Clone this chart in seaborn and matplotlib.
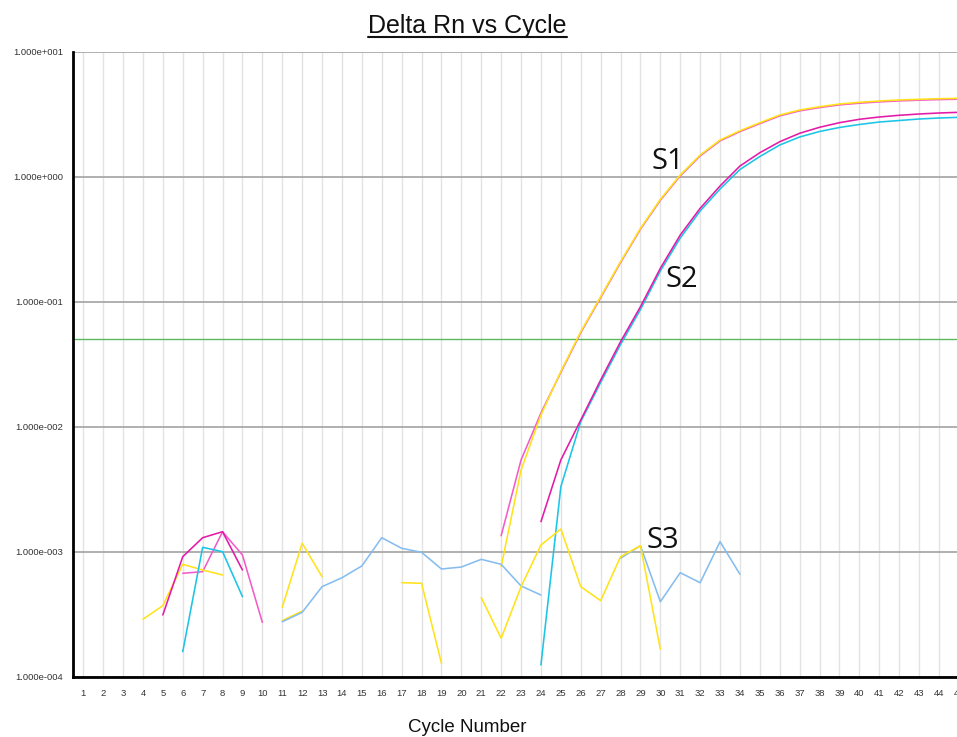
import numpy as np
import pandas as pd
import matplotlib
matplotlib.use("Agg")
import matplotlib.pyplot as plt
from matplotlib.lines import Line2D
from matplotlib.ticker import FixedLocator, FuncFormatter, NullLocator
import seaborn as sns

nan = np.nan

# Amplification data: delta Rn per cycle (NaN = no positive value to plot)
cycles = list(range(1, 46))

s1_a = [nan, nan, nan, 2.88e-4, 3.70e-4,           # 1-5
        7.93e-4, 7.14e-4, 6.51e-4, nan, nan,       # 6-10
        2.81e-4, 3.35e-4, nan, nan, nan,           # 11-15
        nan, nan, nan, nan, nan,                   # 16-20
        nan, 7.59e-4, 4.50e-3, 0.0124, 0.0277,     # 21-25
        0.0575, 0.1096, 0.209, 0.386, 0.659,       # 26-30
        1.032, 1.492, 1.966, 2.333, 2.704,         # 31-35
        3.116, 3.417, 3.631, 3.816, 3.937,         # 36-40
        4.033, 4.108, 4.161, 4.207, 4.238]         # 41-45

s1_b = [nan, nan, nan, nan, nan,
        6.72e-4, 6.92e-4, 1.445e-3, 9.41e-4, 2.72e-4,
        nan, nan, nan, nan, nan,
        nan, nan, nan, nan, nan,
        nan, 1.343e-3, 5.42e-3, 0.01287, 0.0272,
        0.0565, 0.1078, 0.2055, 0.380, 0.648,
        1.015, 1.467, 1.934, 2.295, 2.660,
        3.065, 3.361, 3.572, 3.754, 3.873,
        3.967, 4.041, 4.093, 4.138, 4.169]

s2_a = [nan, nan, nan, nan, 3.12e-4,
        9.12e-4, 1.294e-3, 1.445e-3, 7.14e-4, nan,
        nan, nan, nan, nan, nan,
        nan, nan, nan, nan, nan,
        nan, nan, nan, 1.738e-3, 5.42e-3,
        0.01131, 0.02363, 0.04786, 0.0912, 0.1851,
        0.3416, 0.5587, 0.8427, 1.218, 1.556,
        1.905, 2.225, 2.485, 2.704, 2.879,
        3.003, 3.099, 3.174, 3.233, 3.275]

s2_b = [nan, nan, nan, nan, nan,
        1.585e-4, 1.084e-3, 1.0e-3, 4.37e-4, nan,
        nan, nan, nan, nan, nan,
        nan, nan, nan, nan, nan,
        nan, nan, nan, 1.241e-4, 3.31e-3,
        0.01096, 0.02257, 0.04546, 0.0866, 0.1761,
        0.3232, 0.5317, 0.7972, 1.142, 1.451,
        1.793, 2.078, 2.299, 2.476, 2.616,
        2.738, 2.815, 2.894, 2.948, 2.986]

s3_a = [nan, nan, nan, nan, nan,
        nan, nan, nan, nan, nan,
        3.59e-4, 1.167e-3, 6.31e-4, nan, nan,
        nan, 5.65e-4, 5.59e-4, 1.28e-4, nan,
        4.29e-4, 2.03e-4, 5.25e-4, 1.131e-3, 1.519e-3,
        5.25e-4, 4.06e-4, 9.12e-4, 1.117e-3, 1.656e-4,
        nan, nan, nan, nan, nan,
        nan, nan, nan, nan, nan,
        nan, nan, nan, nan, nan]

s3_b = [nan, nan, nan, nan, nan,
        nan, nan, nan, nan, nan,
        2.75e-4, 3.27e-4, 5.25e-4, 6.19e-4, 7.69e-4,
        1.294e-3, 1.065e-3, 9.89e-4, 7.27e-4, 7.54e-4,
        8.69e-4, 7.93e-4, 5.32e-4, 4.50e-4, nan,
        nan, nan, 8.86e-4, 1.117e-3, 3.98e-4,
        6.79e-4, 5.65e-4, 1.202e-3, 6.60e-4, nan,
        nan, nan, nan, nan, nan,
        nan, nan, nan, nan, nan]

threshold = 0.05

# drawing order: later wells sit on top
wells = {"S1-b": s1_b, "S1-a": s1_a, "S2-b": s2_b, "S2-a": s2_a,
         "S3-b": s3_b, "S3-a": s3_a}
well_colors = {"S1-a": "#ffe31a", "S1-b": "#f25cc8", "S2-a": "#e31aa8",
               "S2-b": "#1cc4e6", "S3-a": "#ffe31a", "S3-b": "#86bdf0"}

sample_labels = ["S1", "S2", "S3"]
label_cycle = [29.58, 30.25, 29.28]
label_value = [1.146, 0.1318, 1.065e-3]

y_decades = [1e-4, 1e-3, 1e-2, 1e-1, 1e0, 1e1]

# Long table; each unbroken run of values gets its own segment id
rows = []
seg = 0
for name, vals in wells.items():
    prev_ok = False
    for c, v in zip(cycles, vals):
        ok = not np.isnan(v)
        if ok and not prev_ok:
            seg += 1
        if ok:
            rows.append({"cycle": c, "delta_rn": v, "well": name, "segment": seg})
        prev_ok = ok
df = pd.DataFrame(rows)

sns.set_style("white")
plt.rcParams["font.family"] = ["Liberation Sans", "DejaVu Sans"]

W, H = 957, 737
fig = plt.figure(figsize=(W / 100, H / 100), dpi=100)
ax = fig.add_axes([73.3 / W, (H - 676.7) / H, 895.5 / W, 625.0 / H])

ax.set_yscale("log")
ax.set_xlim(0.5, 45.5)
ax.set_ylim(1e-4, 1e1)

# grid
for c in cycles:
    ax.axvline(c, color="#e3e3e3", lw=1.0, zorder=0)
for d in y_decades:
    ax.axhline(d, color="#a9a9a9", lw=1.3, zorder=0.5)
ax.axhline(threshold, color="#5cb85c", lw=1.0, zorder=1)

for i, name in enumerate(wells):
    sns.lineplot(data=df[df["well"] == name], x="cycle", y="delta_rn",
                 units="segment", estimator=None, color=well_colors[name],
                 legend=False, lw=1.15, ax=ax, zorder=2 + i * 0.1)

for lab, cx, cy in zip(sample_labels, label_cycle, label_value):
    ax.text(cx, cy, lab, ha="left", va="baseline", fontsize=21,
            family=["Open Sans", "DejaVu Sans"], color="#111111", zorder=5)

ax.xaxis.set_major_locator(FixedLocator(cycles))
ax.xaxis.set_major_formatter(FuncFormatter(lambda v, p: f"{int(v)}"))
ax.yaxis.set_major_locator(FixedLocator(y_decades))
ax.yaxis.set_minor_locator(NullLocator())


def sci_label(v, pos):
    e = int(round(np.log10(v)))
    m = v / 10 ** e
    sign = "+" if e >= 0 else "-"
    return f"{m:.3f}e{sign}{abs(e):03d}"


ax.yaxis.set_major_formatter(FuncFormatter(sci_label))
ax.tick_params(axis="both", length=0, labelsize=6.8, colors="#333333")
ax.tick_params(axis="x", pad=9)
ax.tick_params(axis="y", pad=7.5)
ax.set_xlabel("")
ax.set_ylabel("")

for side in ["top", "right"]:
    ax.spines[side].set_visible(False)
for side in ["left", "bottom"]:
    ax.spines[side].set_color("black")
    ax.spines[side].set_linewidth(2.0)
    ax.spines[side].set_zorder(6)

title = fig.text(467.5 / W, 1 - 32.7 / H, "Delta Rn vs Cycle", ha="center",
                 va="baseline", fontsize=18, color="#111111")
fig.text(467 / W, 1 - 732 / H, "Cycle Number", ha="center", va="baseline",
         fontsize=13.5, color="#111111")

# underline the title
fig.canvas.draw()
bb = title.get_window_extent()
uy = (bb.y0 + 1.0) / H
fig.add_artist(Line2D([bb.x0 / W, bb.x1 / W], [uy, uy], color="#111111", lw=1.5))

fig.savefig("out.png", dpi=100)
